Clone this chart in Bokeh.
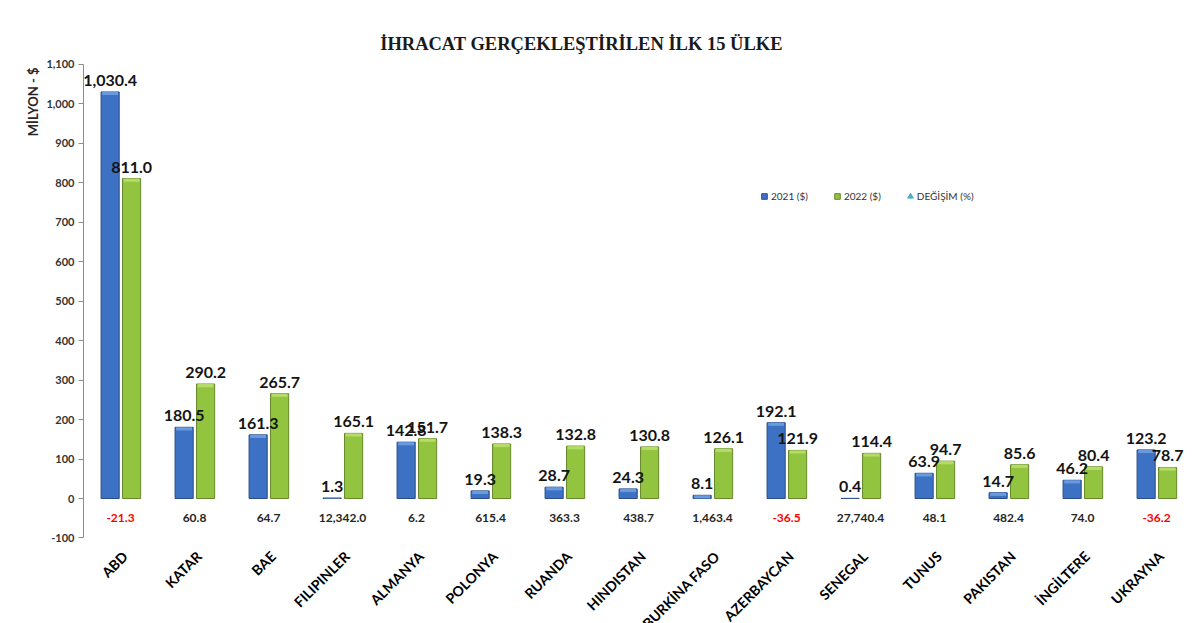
from math import pi
from bokeh.plotting import figure
from bokeh.models import (ColumnDataSource, FactorRange, Range1d, FixedTicker,
                          NumeralTickFormatter, Label, Legend, LegendItem, Title)
from bokeh.transform import dodge
from bokeh.core.properties import value
from bokeh.embed import file_html
from bokeh.resources import INLINE

# ---------------- data ----------------
countries = ["ABD", "KATAR", "BAE", "FILIPINLER", "ALMANYA", "POLONYA", "RUANDA",
             "HINDISTAN", "BURKİNA FASO", "AZERBAYCAN", "SENEGAL", "TUNUS",
             "PAKISTAN", "İNGİLTERE", "UKRAYNA"]
exports_2021 = [1030.4, 180.5, 161.3, 1.3, 142.8, 19.3, 28.7, 24.3, 8.1, 192.1,
                0.4, 63.9, 14.7, 46.2, 123.2]
exports_2022 = [811.0, 290.2, 265.7, 165.1, 151.7, 138.3, 132.8, 130.8, 126.1,
                121.9, 114.4, 94.7, 85.6, 80.4, 78.7]
change_pct = [-21.3, 60.8, 64.7, 12342.0, 6.2, 615.4, 363.3, 438.7, 1463.4,
              -36.5, 27740.4, 48.1, 482.4, 74.0, -36.2]
y_ticks = list(range(-100, 1101, 100))
series_names = ["2021 ($)", "2022 ($)", "DEĞİŞİM (%)"]
title_text = "İHRACAT GERÇEKLEŞTİRİLEN İLK 15 ÜLKE"
y_label = "MİLYON - $"

BLUE, BLUE_EDGE, BLUE_CAP = "#3d71c3", "#2a4d88", "#6a9ade"
GREEN, GREEN_EDGE, GREEN_CAP = "#93c43f", "#66892a", "#b6dc68"
TEAL = "#4bacc6"
FONT = "Lato"
CAP = 8  # height of the lighter bevel on the top of each bar, in data units


def fmt(v):
    return f"{v:,.1f}"


src = ColumnDataSource(dict(
    country=countries,
    v2021=exports_2021,
    v2022=exports_2022,
    c2021=[max(v - CAP, 0) for v in exports_2021],
    c2022=[max(v - CAP, 0) for v in exports_2022],
    chg_val=change_pct,
    l2021=[fmt(v) for v in exports_2021],
    l2022=[fmt(v) for v in exports_2022],
    chg=[fmt(v) for v in change_pct],
    chg_color=["#ff0000" if v < 0 else "#262626" for v in change_pct],
))

p = figure(width=1193, height=623,
           x_range=FactorRange(*countries), y_range=Range1d(-316.8, 1262.2),
           x_axis_location=None, toolbar_location=None, output_backend="svg",
           min_border_left=83, min_border_right=0, min_border_top=0,
           min_border_bottom=0, outline_line_color=None)
p.grid.visible = False
p.background_fill_color = "white"
p.border_fill_color = "white"

# y axis
ya = p.yaxis[0]
ya.bounds = (y_ticks[0], y_ticks[-1])
ya.ticker = FixedTicker(ticks=y_ticks)
ya.formatter = NumeralTickFormatter(format="0,0")
ya.axis_line_color = "#8c8c8c"
ya.major_tick_line_color = "#8c8c8c"
ya.major_tick_out = 5
ya.major_tick_in = 0
ya.minor_tick_line_color = None
ya.major_label_text_font = FONT
ya.major_label_text_font_style = "bold"
ya.major_label_text_font_size = "11px"
ya.major_label_text_color = "#333333"
ya.major_label_standoff = 4

# vertical axis caption at the top of the left side
p.add_layout(Title(text=y_label, align="right", offset=67, standoff=6,
                   text_font=FONT, text_font_style="bold",
                   text_font_size="13px", text_color="#262626"), "left")

# bars
x21 = dodge("country", -0.14, range=p.x_range)
x22 = dodge("country", 0.15, range=p.x_range)
r1 = p.vbar(x=x21, top="v2021", bottom=0, width=0.245, source=src,
            fill_color=BLUE, line_color=BLUE_EDGE)
r2 = p.vbar(x=x22, top="v2022", bottom=0, width=0.245, source=src,
            fill_color=GREEN, line_color=GREEN_EDGE)
# lighter bevel on top of bars
p.vbar(x=x21, top="v2021", bottom="c2021", width=0.215, source=src,
       fill_color=BLUE_CAP, line_color=None)
p.vbar(x=x22, top="v2022", bottom="c2022", width=0.215, source=src,
       fill_color=GREEN_CAP, line_color=None)

# legend proxies (series markers, not shown as points, as in the original)
m1 = p.scatter(x="country", y="v2021", marker="square", size=6, source=src,
               fill_color=BLUE, line_color=BLUE_EDGE, visible=False)
m2 = p.scatter(x="country", y="v2022", marker="square", size=6, source=src,
               fill_color=GREEN, line_color=GREEN_EDGE, visible=False)
m3 = p.scatter(x="country", y="chg_val", marker="triangle", size=6, source=src,
               fill_color=TEAL, line_color=TEAL, visible=False)

# value labels
common = dict(text_font=value(FONT), text_font_style="bold",
              text_font_size="16px", text_color="#141414",
              text_align="center", text_baseline="bottom", y_offset=-6,
              source=src)
p.text(x=x21, y="v2021", text="l2021", **common)
p.text(x=x22, y="v2022", text="l2022", **common)

# change labels
p.text(x="country", y=-50, text="chg", text_color="chg_color",
       text_font=value(FONT), text_font_style="bold", text_font_size="12px",
       text_align="center", text_baseline="middle", source=src)

# category labels
p.text(x=dodge("country", 0.06, range=p.x_range), y=-140, text="country",
       angle=pi / 4, text_align="right", text_baseline="middle",
       text_font=value(FONT), text_font_style="bold", text_font_size="14px",
       text_color="#000000", source=src)

# chart title
p.add_layout(Label(x=498, y=580, x_units="screen", y_units="screen",
                   text=title_text, text_align="center",
                   text_baseline="alphabetic", text_font="Liberation Serif",
                   text_font_style="bold", text_font_size="18.5px",
                   text_color="#1a1a1a"))

legend = Legend(items=[LegendItem(label=series_names[0], renderers=[m1]),
                       LegendItem(label=series_names[1], renderers=[m2]),
                       LegendItem(label=series_names[2], renderers=[m3])],
                orientation="horizontal", location=(674, 420),
                glyph_width=14, glyph_height=14, label_height=14,
                label_standoff=0, spacing=22, padding=0, margin=0,
                border_line_color=None, background_fill_alpha=0,
                inactive_fill_alpha=0,
                label_text_font=FONT, label_text_font_size="10px",
                label_text_color="#333333")
p.add_layout(legend)

open("out.html", "w").write(file_html(p, INLINE))
